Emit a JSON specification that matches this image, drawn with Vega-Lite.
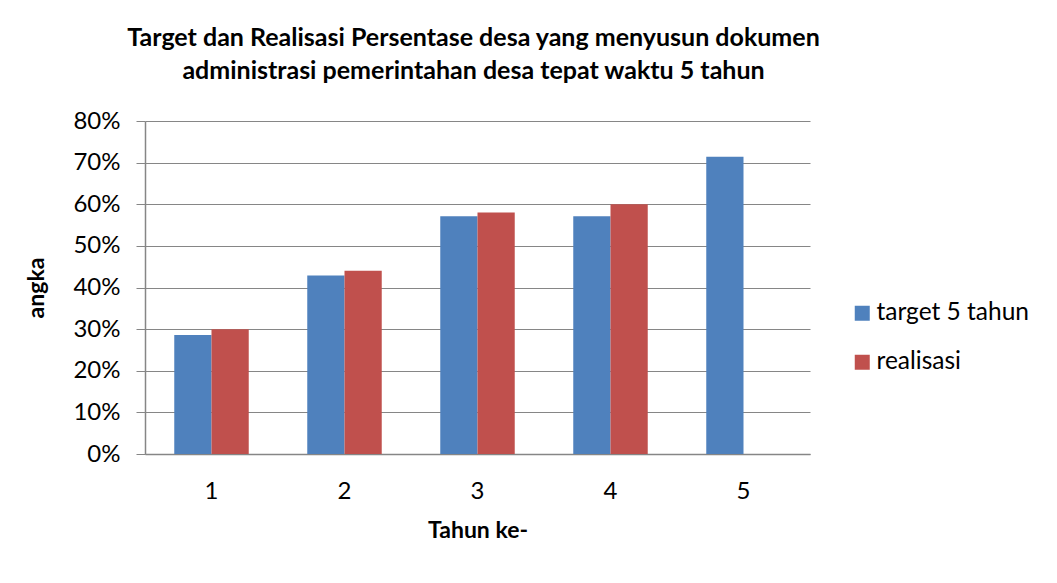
{
  "$schema": "https://vega.github.io/schema/vega-lite/v6.json",
  "autosize": {"type": "none"},
  "width": 665,
  "height": 333,
  "padding": {"left": 145, "top": 121, "right": 247, "bottom": 129},
  "background": "white",
  "title": {
    "text": ["Target dan Realisasi Persentase desa yang menyusun dokumen", "administrasi pemerintahan desa tepat waktu 5 tahun"],
    "anchor": "middle",
    "font": "Lato",
    "fontSize": 25,
    "fontWeight": "bold",
    "color": "#000000",
    "lineHeight": 33,
    "offset": 25,
    "dx": -4
  },
  "data": {
    "values": [
      {"tahun": "1", "seri": "target 5 tahun", "nilai": 0.2857},
      {"tahun": "1", "seri": "realisasi", "nilai": 0.30},
      {"tahun": "2", "seri": "target 5 tahun", "nilai": 0.4286},
      {"tahun": "2", "seri": "realisasi", "nilai": 0.44},
      {"tahun": "3", "seri": "target 5 tahun", "nilai": 0.5714},
      {"tahun": "3", "seri": "realisasi", "nilai": 0.58},
      {"tahun": "4", "seri": "target 5 tahun", "nilai": 0.5714},
      {"tahun": "4", "seri": "realisasi", "nilai": 0.60},
      {"tahun": "5", "seri": "target 5 tahun", "nilai": 0.7143}
    ]
  },
  "mark": {"type": "bar"},
  "encoding": {
    "x": {
      "field": "tahun",
      "type": "nominal",
      "scale": {"paddingInner": 0.44, "paddingOuter": 0.22},
      "axis": {
        "title": "Tahun ke-",
        "titleFont": "Lato",
        "titleFontSize": 23,
        "titleFontWeight": "bold",
        "titleColor": "#000000",
        "titlePadding": 16,
        "labelFont": "Lato",
        "labelFontSize": 24,
        "labelColor": "#000000",
        "labelAngle": 0,
        "labelPadding": 25,
        "ticks": false,
        "domainColor": "#868686",
        "domainWidth": 1.5,
        "grid": false
      }
    },
    "xOffset": {"field": "seri", "type": "nominal", "sort": ["target 5 tahun", "realisasi"]},
    "y": {
      "field": "nilai",
      "type": "quantitative",
      "scale": {"domain": [0, 0.8], "nice": false},
      "axis": {
        "title": "angka",
        "titleFont": "Lato",
        "titleFontSize": 23,
        "titleFontWeight": "bold",
        "titleColor": "#000000",
        "titlePadding": 24,
        "format": ".0%",
        "values": [0, 0.1, 0.2, 0.3, 0.4, 0.5, 0.6, 0.7, 0.8],
        "labelFont": "Lato",
        "labelFontSize": 24,
        "labelColor": "#000000",
        "labelPadding": 16,
        "tickSize": 9,
        "tickColor": "#868686",
        "domainColor": "#868686",
        "domainWidth": 1.5,
        "gridColor": "#868686",
        "gridWidth": 1.2
      }
    },
    "color": {
      "field": "seri",
      "type": "nominal",
      "scale": {"domain": ["target 5 tahun", "realisasi"], "range": ["#4F81BD", "#C0504D"]},
      "legend": {
        "title": null,
        "orient": "none",
        "legendX": 705,
        "legendY": 180,
        "symbolType": "square",
        "symbolSize": 225,
        "symbolStrokeWidth": 0,
        "labelFont": "Lato",
        "labelFontSize": 24.5,
        "labelColor": "#000000",
        "labelOffset": 2,
        "rowPadding": 24
      }
    }
  },
  "config": {"view": {"stroke": null}}
}
